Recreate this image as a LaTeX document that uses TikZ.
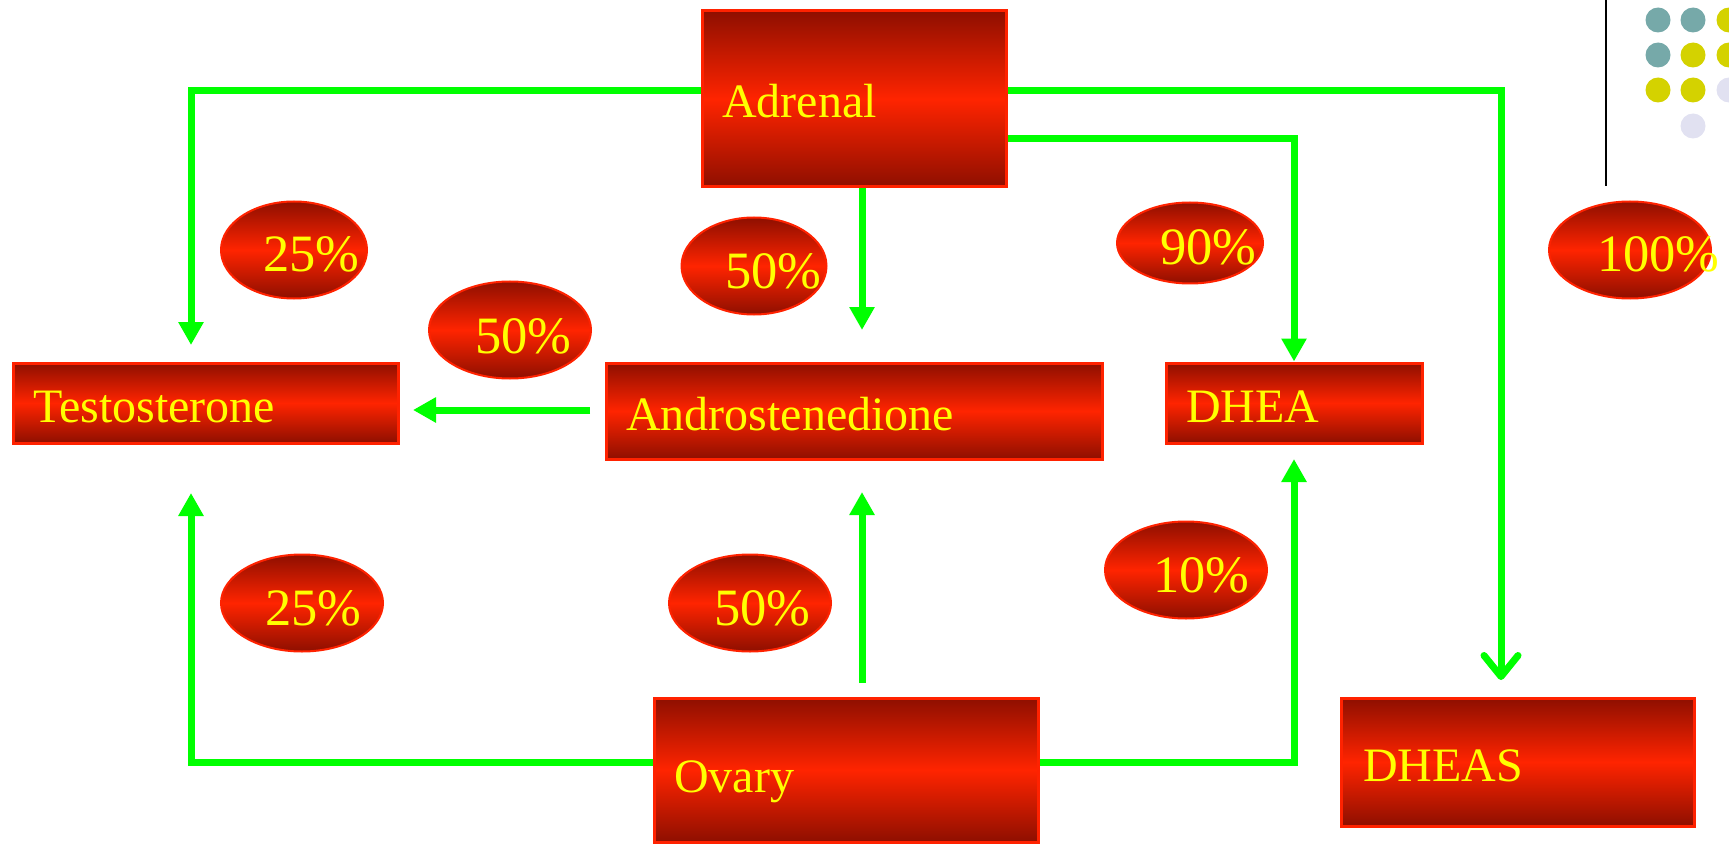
\documentclass[tikz,border=0pt]{standalone}
\usepackage{fontspec}
\setmainfont{Liberation Serif}
\usetikzlibrary{arrows.meta,shapes.geometric}
\definecolor{dkred}{HTML}{8E0F00}
\definecolor{brred}{HTML}{FF2400}
\definecolor{edgered}{HTML}{FF2200}
\definecolor{grn}{HTML}{00FF00}
\definecolor{txtyel}{HTML}{FFFF00}
\definecolor{dotteal}{HTML}{76A9A9}
\definecolor{dotyel}{HTML}{D4D200}
\definecolor{dotlav}{HTML}{E1E1F1}
\begin{document}
\begin{tikzpicture}[x=1pt,y=-1pt,
  boxfill/.style={rectangle, draw=edgered, line width=3pt, top color=dkred, bottom color=dkred, middle color=brred, inner sep=0pt, anchor=center},
  ovalfill/.style={ellipse, draw=edgered, line width=2pt, top color=dkred, bottom color=dkred, middle color=brred, inner sep=0pt, anchor=center},
  lab/.style={text=txtyel, font=\fontsize{48}{57}\selectfont, anchor=base west, inner sep=0pt},
  pct/.style={text=txtyel, font=\fontsize{52.5}{62}\selectfont, anchor=base west, inner sep=0pt},
  conn/.style={draw=grn, line width=7pt},
  tri/.style={conn, -{Triangle[length=23pt,width=24pt]}},
  barb/.style={conn, -{Straight Barb[length=21pt,width=34pt,round]}}
]
\useasboundingbox (0,0) rectangle (1729,850);

% decoration top right
\draw[line width=2pt] (1606,0) -- (1606,186);
\fill[dotteal] (1658,20) circle[radius=12.5];
\fill[dotteal] (1693,20) circle[radius=12.5];
\fill[dotyel]  (1729,20) circle[radius=12.5];
\fill[dotteal] (1658,55) circle[radius=12.5];
\fill[dotyel]  (1693,55) circle[radius=12.5];
\fill[dotyel]  (1729,55) circle[radius=12.5];
\fill[dotyel]  (1658,90) circle[radius=12.5];
\fill[dotyel]  (1693,90) circle[radius=12.5];
\fill[dotlav]  (1729,90) circle[radius=12.5];
\fill[dotlav]  (1693,126) circle[radius=12.5];

% boxes
\node[boxfill, minimum width=304pt, minimum height=176pt] (adrenal) at (854,99) {};
\node[boxfill, minimum width=385pt, minimum height=80pt] (testo) at (205.5,403) {};
\node[boxfill, minimum width=496pt, minimum height=96pt] (andro) at (854,411) {};
\node[boxfill, minimum width=256pt, minimum height=80pt] (dhea) at (1294,403) {};
\node[boxfill, minimum width=384pt, minimum height=144pt] (ovary) at (846,770) {};
\node[boxfill, minimum width=353pt, minimum height=128pt] (dheas) at (1517.5,762) {};

\node[lab] (ladrenal) at (722,118) {Adrenal};
\node[lab] (ltesto) at (33,422) {Testosterone};
\node[lab] (landro) at (626,430) {Androstenedione};
\node[lab] (ldhea) at (1186,422) {DHEA};
\node[lab] (lovary) at (674,792) {Ovary};
\node[lab] (ldheas) at (1363,781) {DHEAS};

% ellipses
\node[ovalfill, minimum width=146pt, minimum height=97pt] (e25a) at (294,250) {};
\node[ovalfill, minimum width=162pt, minimum height=97pt] (e50a) at (510,330) {};
\node[ovalfill, minimum width=145pt, minimum height=97pt] (e50b) at (754,266) {};
\node[ovalfill, minimum width=146pt, minimum height=81pt] (e90) at (1190,243) {};
\node[ovalfill, minimum width=162pt, minimum height=97pt] (e100) at (1630,250) {};
\node[ovalfill, minimum width=162pt, minimum height=97pt] (e25b) at (302,603) {};
\node[ovalfill, minimum width=162pt, minimum height=97pt] (e50c) at (750,603) {};
\node[ovalfill, minimum width=162pt, minimum height=97pt] (e10) at (1186,570) {};

\node[pct] (p25a) at (263,272) {25\%};
\node[pct] (p50a) at (475,353) {50\%};
\node[pct] (p50b) at (725,289) {50\%};
\node[pct] (p90) at (1160,265) {90\%};
\node[pct] (p100) at (1597,272) {100\%};
\node[pct] (p25b) at (265,625) {25\%};
\node[pct] (p50c) at (714,625) {50\%};
\node[pct] (p10) at (1153,592) {10\%};

% connector ends
\coordinate (a1) at (191,345);
\coordinate (a2) at (1501,680);
\coordinate (a4) at (862,330);
\coordinate (a5s) at (590,410);
\coordinate (a5) at (413,410);
\coordinate (a6) at (191,493);
\coordinate (a7s) at (862,683);
\coordinate (a7) at (862,492);
\coordinate (a8) at (1294,459);

% connectors
\draw[tri] (adrenal.west |- 0,91) -| (a1);
\draw[barb] (adrenal.east |- 0,91) -| (a2);
\draw[tri] (adrenal.east |- 0,139) -| (dhea.north);
\draw[tri] (adrenal.south -| 862,0) -- (a4);
\draw[tri] (a5s) -- (a5);
\draw[tri] (ovary.west |- 0,762) -| (a6);
\draw[tri] (a7s) -- (a7);
\draw[tri] (ovary.east |- 0,762) -| (a8);
\end{tikzpicture}
\end{document}
